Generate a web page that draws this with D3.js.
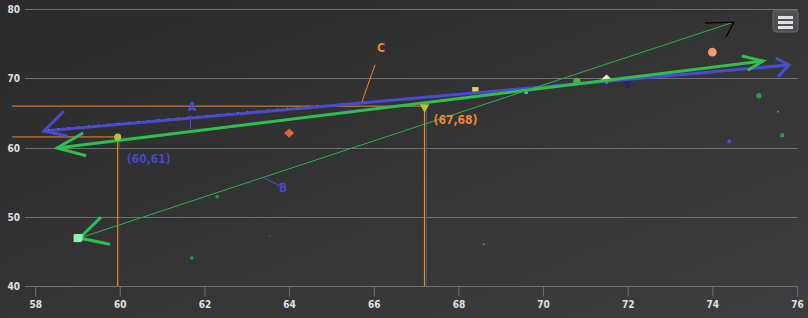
<!DOCTYPE html>
<html>
<head>
<meta charset="utf-8">
<script src="https://cdn.jsdelivr.net/npm/d3@7/dist/d3.min.js"></script>
<style>
body { margin: 0; background: #2a2a2b; }
svg { display: block; }
text { font-family: "DejaVu Sans Condensed", "DejaVu Sans", sans-serif; }
</style>
</head>
<body>
<script>
var width = 808;
var height = 318;
var margin = {top: 9, right: 10, bottom: 32, left: 25};

// axis ticks
var xTicks = [58, 60, 62, 64, 66, 68, 70, 72, 74, 76];
var yTicks = [40, 50, 60, 70, 80];

// scatter points  [x, y]
var pointX = [64.0, 68.4, 69.6, 70.8, 71.5, 72.0, 74.0, 75.1, 75.55, 74.4, 75.65, 62.3, 61.7, 63.55, 68.6, 59.0];
var pointY = [62.1, 68.3, 68.0, 69.6, 69.9, 69.3, 73.8, 67.5, 65.2, 60.9, 61.8, 52.9, 44.05, 47.2, 46.05, 46.9];
var pointSymbol = ["diamond", "square", "square", "circle", "diamond", "triangle", "circle", "circle", "square", "circle", "square", "square", "square", "circle", "circle", "square"];
var pointColor = ["#e0643c", "#e4d354", "#55bfa0", "#63a450", "#f7efc0", "#24245e", "#f29b6c", "#2a9a48", "#c07030", "#4848c8", "#2a9a48", "#2a9a48", "#2a9a48", "#6a4a30", "#888888", "#90eeb0"];
var pointSize = [40, 40, 12, 40, 40, 40, 60, 22, 3, 14, 14, 10, 10, 3, 3, 60];

// crosshair annotations
var crossX = [59.95, 67.2];
var crossY = [61.55, 66.0];
var crossText = ["(60,61)", "(67,68)"];
var crossColor = ["#4848c8", "#f0862a"];
var crossMarker = ["#b5c23a", "#b5c23a"];

// arrow lines [x1, y1, x2, y2]
var arrowLines = [
  [58.21, 62.4, 75.81, 71.95],
  [58.52, 59.95, 75.2, 72.53],
  [59.05, 46.94, 74.51, 78.16]
];
var arrowColor = ["#4a4ad4", "#2fbf4f", "#2fb14f"];

// labels with connector [labelX, labelY, fromX, fromY, toX, toY]
var labelText = ["A", "B", "C"];
var labelColor = ["#4a4ad4", "#4a4ad4", "#f0862a"];
var labelPos = [
  [61.71, 65.9, 61.67, 64.75, 61.67, 62.7],
  [63.86, 54.2, 63.38, 55.7, 63.78, 54.5],
  [66.17, 74.45, 66.03, 72.0, 65.72, 66.6]
];

var svg = d3.select("body").append("svg")
  .attr("width", width).attr("height", height);

var defs = svg.append("defs");
var grad = defs.append("linearGradient").attr("id", "bg")
  .attr("x1", 0).attr("y1", 0).attr("x2", 1).attr("y2", 1);
grad.append("stop").attr("offset", 0).attr("stop-color", "#2a2a2b");
grad.append("stop").attr("offset", 1).attr("stop-color", "#3e3e40");

svg.append("rect").attr("width", width).attr("height", height).attr("fill", "url(#bg)");

var x = d3.scaleLinear().domain([57.76, 76]).range([margin.left, width - 11]);
var y = d3.scaleLinear().domain([40, 80]).range([height - margin.bottom, margin.top + 0.3]);

// grid
svg.append("g").selectAll("line").data(yTicks).enter().append("line")
  .attr("x1", margin.left).attr("x2", width - 10)
  .attr("y1", d => Math.round(y(d)) + 0.5).attr("y2", d => Math.round(y(d)) + 0.5)
  .attr("stroke", "#707073");

svg.append("g").selectAll("text").data(yTicks).enter().append("text")
  .attr("x", 20).attr("y", d => y(d) + 4)
  .attr("text-anchor", "end")
  .attr("font-size", "10px").attr("font-weight", "bold")
  .attr("fill", "#e0e0e3")
  .text(d => d);

var bottomAxis = d3.axisBottom(x).tickValues(xTicks).tickSize(10).tickPadding(4);
var gx = svg.append("g")
  .attr("transform", "translate(0," + (Math.round(y(40)) + 0.5) + ")")
  .call(bottomAxis);
gx.select(".domain").attr("stroke", "#707073").attr("d", "M" + margin.left + ",0H" + (width - 10));
gx.selectAll(".tick line").attr("stroke", "#707073");
gx.selectAll(".tick text").attr("fill", "#e0e0e3").attr("font-size", "10px")
  .attr("font-weight", "bold")
  .attr("font-family", "DejaVu Sans Condensed, DejaVu Sans, sans-serif");

var g = svg.append("g");

// scatter
var symbolType = {
  circle: d3.symbolCircle, square: d3.symbolSquare, triangle: d3.symbolTriangle
};
pointX.forEach((px, i) => {
  var cx = x(px), cy = y(pointY[i]);
  if (pointSymbol[i] === "diamond") {
    var r = Math.sqrt(pointSize[i]) * 0.8;
    g.append("path")
      .attr("d", "M" + (cx - r) + "," + cy + "L" + cx + "," + (cy - r * 0.9) + "L" + (cx + r) + "," + cy + "L" + cx + "," + (cy + r * 0.9) + "Z")
      .attr("fill", pointColor[i]);
    return;
  }
  var sym = d3.symbol().type(symbolType[pointSymbol[i]]).size(pointSize[i]);
  g.append("path")
    .attr("d", sym())
    .attr("transform", "translate(" + cx + "," + cy + ")" + (pointSymbol[i] === "triangle" ? " rotate(180)" : ""))
    .attr("fill", pointColor[i]);
});

// crosshairs
crossX.forEach((cx, i) => {
  var px = x(cx), py = y(crossY[i]);
  var left = margin.left - 13;
  g.append("line").attr("x1", left).attr("x2", px).attr("y1", py).attr("y2", py)
    .attr("stroke", "#f0862a").attr("stroke-width", 1);
  g.append("line").attr("x1", px).attr("x2", px).attr("y1", py).attr("y2", y(40))
    .attr("stroke", "#f0862a").attr("stroke-width", 1.2);
  g.append("line").attr("x1", px + 2).attr("x2", px + 2).attr("y1", py + 4).attr("y2", i === 0 ? py + 12 : y(40))
    .attr("stroke", "#3a5a7a").attr("stroke-width", 1);
});

// arrows
function wing(tx, ty, theta, a, len) {
  var r = (theta + a) * Math.PI / 180;
  return [tx + len * Math.cos(r), ty + len * Math.sin(r)];
}
var arrowWidth = [3, 3, 1];
var headWidth = [3, 3, 3];
// wings: [a1, len1, a2, len2] for start, end
var heads = [
  [[-40, 28, 17, 24], [33, 15, -42, 16]],
  [[-23, 30, 22, 30], [20, 22, -24, 18]],
  [[-26, 30, 30, 31], [16, 29, -44, 17]]
];
var headColor = [["#4a4ad4", "#4a4ad4"], ["#2fbf4f", "#2fbf4f"], ["#2fbf4f", "#000000"]];

arrowLines.forEach((l, i) => {
  var x1 = x(l[0]), y1 = y(l[1]), x2 = x(l[2]), y2 = y(l[3]);
  g.append("line").attr("x1", x1).attr("y1", y1).attr("x2", x2).attr("y2", y2)
    .attr("stroke", arrowColor[i]).attr("stroke-width", arrowWidth[i]);
  var back1 = Math.atan2(y2 - y1, x2 - x1) * 180 / Math.PI;
  var back2 = Math.atan2(y1 - y2, x1 - x2) * 180 / Math.PI;
  [[x1, y1, back1, heads[i][0], headColor[i][0], headWidth[i]],
   [x2, y2, back2, heads[i][1], headColor[i][1], i === 2 ? 1.2 : headWidth[i]]].forEach(h => {
    var w1 = wing(h[0], h[1], h[2], h[3][0], h[3][1]);
    var w2 = wing(h[0], h[1], h[2], h[3][2], h[3][3]);
    g.append("path")
      .attr("d", "M" + w1 + "L" + h[0] + "," + h[1] + "L" + w2)
      .attr("fill", "none").attr("stroke", h[4]).attr("stroke-width", h[5]);
  });
});

// dotted highlight on blue line
var bl = arrowLines[0];
g.append("line")
  .attr("x1", x(bl[0]) + 4).attr("y1", y(bl[1]) - 1.5)
  .attr("x2", x(64.9)).attr("y2", y(bl[1] + (64.9 - bl[0]) * (bl[3] - bl[1]) / (bl[2] - bl[0])) - 1.5)
  .attr("stroke", "#e8c8e8").attr("stroke-width", 1).attr("stroke-dasharray", "1,9").attr("opacity", 0.5);

// crosshair markers
crossX.forEach((cx, i) => {
  var px = x(cx), py = y(crossY[i]);
  if (i === 0) {
    g.append("circle").attr("cx", px).attr("cy", py).attr("r", 3.5).attr("fill", crossMarker[i]);
  } else {
    g.append("path").attr("d", d3.symbol().type(d3.symbolTriangle).size(40)())
      .attr("transform", "translate(" + px + "," + (py + 1) + ") rotate(180)")
      .attr("fill", crossMarker[i]);
  }
});

// start square on thin line
g.append("rect").attr("x", x(arrowLines[2][0]) - 5).attr("y", y(arrowLines[2][1]) - 4)
  .attr("width", 8).attr("height", 7).attr("fill", "#90eeb0");

// crosshair texts
g.append("text").attr("x", x(crossX[0]) + 9).attr("y", y(crossY[0]) + 26)
  .attr("fill", crossColor[0]).attr("font-size", "12px").attr("font-weight", "bold")
  .text(crossText[0]);
g.append("text").attr("x", x(crossX[1]) + 9).attr("y", y(crossY[1]) + 18)
  .attr("fill", crossColor[1]).attr("font-size", "12px").attr("font-weight", "bold")
  .text(crossText[1]);

// labels
labelText.forEach((t, i) => {
  var p = labelPos[i];
  g.append("line").attr("x1", x(p[2])).attr("y1", y(p[3])).attr("x2", x(p[4])).attr("y2", y(p[5]))
    .attr("stroke", labelColor[i]).attr("stroke-width", 1);
  g.append("text").attr("x", x(p[0])).attr("y", y(p[1]) + 4)
    .attr("text-anchor", "middle").attr("fill", labelColor[i])
    .attr("font-size", "12px").attr("font-weight", "bold")
    .text(t);
});

// menu button
var menu = svg.append("g").attr("transform", "translate(773,10)");
menu.append("rect").attr("width", 25).attr("height", 22).attr("rx", 3)
  .attr("fill", "#505053").attr("stroke", "#6a6a6e");
[7.5, 12.5, 17.5].forEach(yy => {
  menu.append("line").attr("x1", 5).attr("x2", 20).attr("y1", yy).attr("y2", yy)
    .attr("stroke", "#e0e0e3").attr("stroke-width", 3);
});
</script>
</body>
</html>
